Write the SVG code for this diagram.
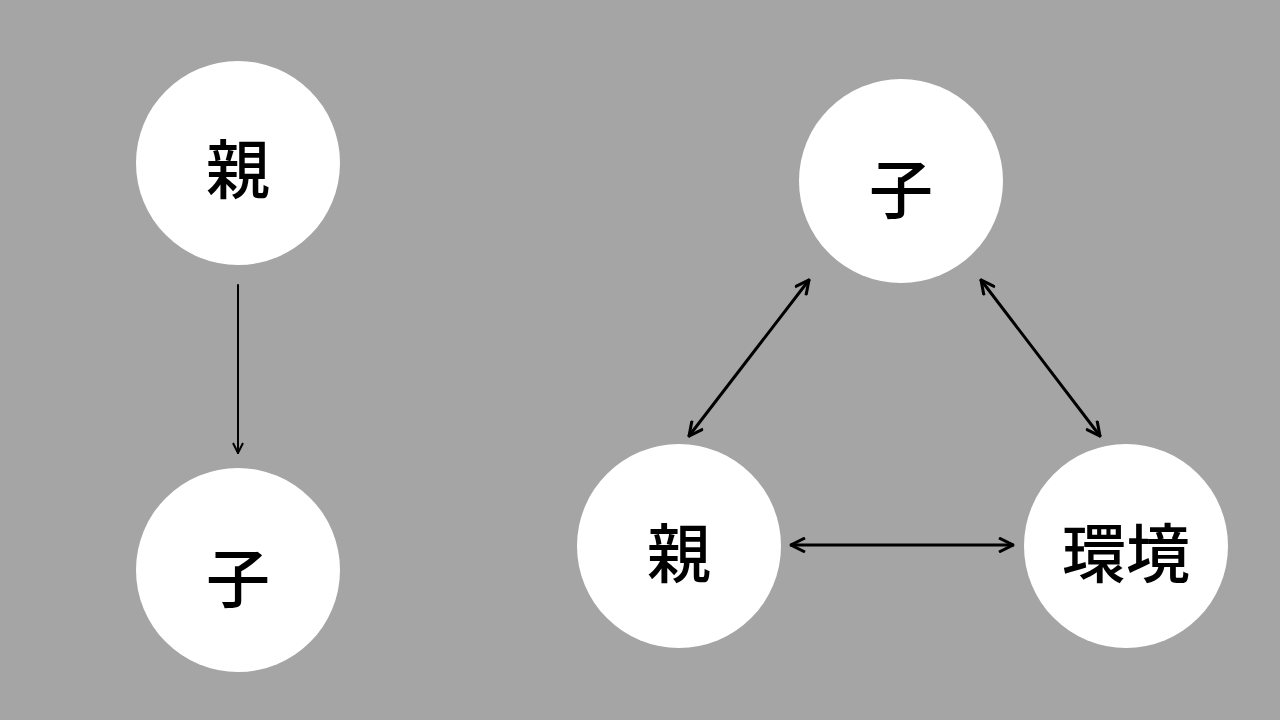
<svg xmlns="http://www.w3.org/2000/svg" width="1280" height="720" viewBox="0 0 1280 720">
<style>
.n{fill:#fff}
.t{font-family:"Noto Sans CJK JP",sans-serif;font-size:64px;font-weight:500;fill:#000;text-anchor:middle;dominant-baseline:central}
.c{stroke:#000;fill:none;stroke-linecap:round}
</style>
<defs>
<marker id="a" viewBox="0 0 12 12" refX="11" refY="6" markerWidth="12" markerHeight="12" markerUnits="userSpaceOnUse" orient="auto-start-reverse">
<path d="M1,1 L11,6 L1,11" fill="none" stroke="#000" stroke-width="2"/>
</marker>
<marker id="b" viewBox="0 0 16 16" refX="15" refY="8" markerWidth="16" markerHeight="16" markerUnits="userSpaceOnUse" orient="auto-start-reverse">
<path d="M1,1 L15,8 L1,15" fill="none" stroke="#000" stroke-width="3"/>
</marker>
</defs>
<rect width="1280" height="720" fill="#a5a5a5"/>
<g id="l-parent"><circle class="n" cx="238" cy="163" r="102"/><text class="t" x="238" y="165">親</text></g>
<g id="l-child"><circle class="n" cx="238" cy="570" r="102"/><text class="t" x="238" y="574">子</text></g>
<g id="r-child"><circle class="n" cx="901" cy="181" r="102"/><text class="t" x="901" y="185">子</text></g>
<g id="r-parent"><circle class="n" cx="679" cy="546" r="102"/><text class="t" x="679" y="549">親</text></g>
<g id="r-env"><circle class="n" cx="1126" cy="546" r="102"/><text class="t" x="1126" y="549">環境</text></g>
<g id="connectors">
<line class="c" x1="238" y1="285" x2="238" y2="453" stroke-width="2" marker-end="url(#a)"/>
<line class="c" x1="809" y1="280" x2="689" y2="436" stroke-width="3" marker-start="url(#b)" marker-end="url(#b)"/>
<line class="c" x1="981" y1="280" x2="1100" y2="436" stroke-width="3" marker-start="url(#b)" marker-end="url(#b)"/>
<line class="c" x1="791" y1="545" x2="1013" y2="545" stroke-width="3" marker-start="url(#b)" marker-end="url(#b)"/>
</g>
</svg>
